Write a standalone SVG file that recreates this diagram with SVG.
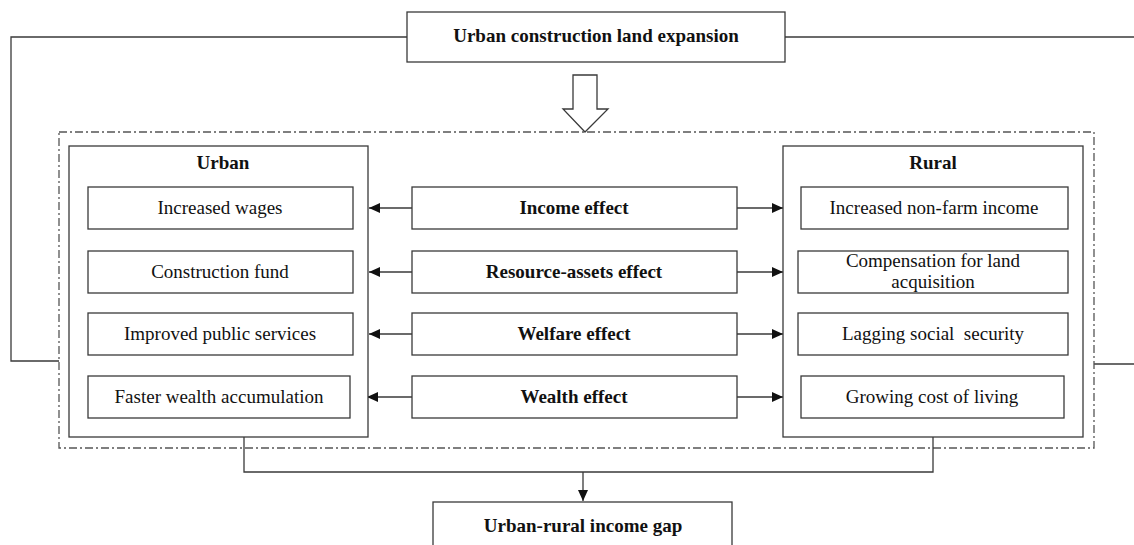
<svg xmlns="http://www.w3.org/2000/svg" width="1134" height="545" viewBox="0 0 1134 545">
<style>
.box{fill:#fff;stroke:#3a3a3a;stroke-width:1.3}
.ln{fill:none;stroke:#3a3a3a;stroke-width:1.3}
.dd{fill:none;stroke:#555;stroke-width:1.3;stroke-dasharray:8 3 2 3}
.t{font-family:"Liberation Serif","Times New Roman",serif;font-size:19px;fill:#111;text-anchor:middle}
.b{font-weight:bold}
</style>
<defs>
<marker id="ah" viewBox="0 0 11 10" refX="11" refY="5" markerWidth="11" markerHeight="10" markerUnits="userSpaceOnUse" orient="auto">
<path d="M0,0 L11,5 L0,10 Z" fill="#111"/>
</marker>
</defs>
<rect width="1134" height="545" fill="#fff"/>
<g id="connectors">
<polyline class="ln" points="407,37 11,37 11,361 59,361"/>
<line class="ln" x1="785" y1="37" x2="1134" y2="37"/>
<line class="ln" x1="1094" y1="364" x2="1134" y2="364"/>
<polygon points="573,75 597,75 597,109 608,109 585,132 563,109 573,109" fill="#fff" stroke="#3a3a3a" stroke-width="1.3"/>
<rect class="dd" x="59" y="132" width="1035" height="316"/>
<polyline class="ln" points="244,437 244,472 933,472 933,437"/>
<line class="ln" x1="583" y1="472" x2="583" y2="501" marker-end="url(#ah)"/>
<line class="ln" x1="412" y1="208" x2="369" y2="208" marker-end="url(#ah)"/>
<line class="ln" x1="737" y1="208" x2="783" y2="208" marker-end="url(#ah)"/>
<line class="ln" x1="412" y1="272" x2="369" y2="272" marker-end="url(#ah)"/>
<line class="ln" x1="737" y1="272" x2="783" y2="272" marker-end="url(#ah)"/>
<line class="ln" x1="412" y1="334" x2="369" y2="334" marker-end="url(#ah)"/>
<line class="ln" x1="737" y1="334" x2="783" y2="334" marker-end="url(#ah)"/>
<line class="ln" x1="412" y1="397" x2="367" y2="397" marker-end="url(#ah)"/>
<line class="ln" x1="737" y1="397" x2="783" y2="397" marker-end="url(#ah)"/>
</g>
<g id="top">
<rect class="box" x="407" y="12" width="378" height="50"/>
<text class="t b" x="596" y="42">Urban construction land expansion</text>
</g>
<g id="urban">
<rect class="box" x="69" y="146" width="299" height="291"/>
<text class="t b" x="223" y="169">Urban</text>
</g>
<g id="rural">
<rect class="box" x="783" y="146" width="300" height="291"/>
<text class="t b" x="933" y="169">Rural</text>
</g>
<g id="u1"><rect class="box" x="88" y="187" width="265" height="42"/><text class="t" x="220" y="214">Increased wages</text></g>
<g id="u2"><rect class="box" x="88" y="251" width="265" height="42"/><text class="t" x="220" y="278">Construction fund</text></g>
<g id="u3"><rect class="box" x="88" y="313" width="265" height="42"/><text class="t" x="220" y="340">Improved public services</text></g>
<g id="u4"><rect class="box" x="88" y="376" width="262" height="42"/><text class="t" x="219" y="403">Faster wealth accumulation</text></g>
<g id="e1"><rect class="box" x="412" y="187" width="325" height="42"/><text class="t b" x="574" y="214">Income effect</text></g>
<g id="e2"><rect class="box" x="412" y="251" width="325" height="42"/><text class="t b" x="574" y="278">Resource-assets effect</text></g>
<g id="e3"><rect class="box" x="412" y="313" width="325" height="42"/><text class="t b" x="574" y="340">Welfare effect</text></g>
<g id="e4"><rect class="box" x="412" y="376" width="325" height="42"/><text class="t b" x="574" y="403">Wealth effect</text></g>
<g id="r1"><rect class="box" x="801" y="187" width="267" height="42"/><text class="t" x="934" y="214">Increased non-farm income</text></g>
<g id="r2"><rect class="box" x="798" y="251" width="270" height="42"/><text class="t" x="933" y="267">Compensation for land</text><text class="t" x="933" y="288">acquisition</text></g>
<g id="r3"><rect class="box" x="798" y="313" width="270" height="42"/><text class="t" x="933" y="340" xml:space="preserve">Lagging social  security</text></g>
<g id="r4"><rect class="box" x="801" y="376" width="263" height="42"/><text class="t" x="932" y="403">Growing cost of living</text></g>
<g id="gap">
<rect class="box" x="433" y="502" width="299" height="50"/>
<text class="t b" x="583" y="532">Urban-rural income gap</text>
</g>
</svg>
